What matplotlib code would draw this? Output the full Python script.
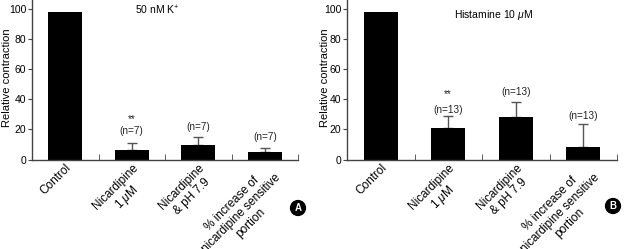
import matplotlib
matplotlib.use('Agg')
import matplotlib.pyplot as plt
import numpy as np

plt.rcParams['font.family'] = ['Liberation Sans', 'DejaVu Sans']
plt.rcParams['mathtext.fontset'] = 'custom'
plt.rcParams['mathtext.it'] = 'Liberation Sans:italic'
plt.rcParams['mathtext.rm'] = 'Liberation Sans'

# categories (same for both panels)
categories = ['Control', 'Nicardipine\n1 $\\mu$M', 'Nicardipine\n& pH 7.9',
              '% increase of\nnicardipine sensitive\nportion']

# panel A: 50 nM K+
values_a = [98, 6.5, 9.5, 4.8]
errors_a = [0, 4.3, 5.7, 2.7]
n_a = ['', '(n=7)', '(n=7)', '(n=7)']
n_y_a = [0, 19, 21.7, 15]
stars_a = ['', '**', '', '']
star_y_a = [0, 27, 0, 0]
title_a = '50 nM K$^{+}$'

# panel B: Histamine 10 uM
values_b = [98, 21, 28, 8.3]
errors_b = [0, 7.8, 10, 15.2]
n_b = ['', '(n=13)', '(n=13)', '(n=13)']
n_y_b = [0, 33, 45, 29.2]
stars_b = ['', '**', '', '']
star_y_b = [0, 43.7, 0, 0]
title_b = 'Histamine 10 $\\mu$M'

fig = plt.figure(figsize=(6.25, 2.49), dpi=100)
axA = fig.add_axes([0.0512, 0.3594, 0.4256, 0.6406])
axB = fig.add_axes([0.5552, 0.3594, 0.4320, 0.6406])

def draw(ax, vals, errs, ns, n_y, stars, star_y, title, tx, ty, ylab_x, letter, lx, ly):
    x = np.arange(len(vals))
    ax.bar(x, vals, width=0.51, color='black', zorder=2)
    for i in range(len(vals)):
        if errs[i] > 0:
            ax.errorbar(x[i], vals[i], yerr=[[0], [errs[i]]], fmt='none',
                        ecolor='#555555', elinewidth=1, capsize=3.5, capthick=1, zorder=1)
        if ns[i]:
            ax.text(x[i], n_y[i], ns[i], ha='center', va='center',
                    fontsize=7.2, color='#222222')
        if stars[i]:
            ax.text(x[i], star_y[i], stars[i], ha='center', va='center',
                    fontsize=7.2, color='#222222')
    ax.set_xlim(-0.5, 3.5)
    ax.set_ylim(0, 106.3)
    ax.set_yticks([0, 20, 40, 60, 80, 100])
    ax.set_xticks(x)
    ax.set_xticklabels(categories, rotation=45, ha='right', va='top',
                       rotation_mode='anchor', fontsize=8.5, multialignment='center')
    ax.set_xticks([0.5, 1.5, 2.5, 3.5], minor=True)
    ax.tick_params(axis='x', which='major', length=0, pad=1.5)
    ax.tick_params(axis='x', which='minor', direction='in', length=4, color='#444444')
    ax.tick_params(axis='y', direction='out', length=3, labelsize=7.5, pad=1, color='#444444')
    for s in ['top', 'right']:
        ax.spines[s].set_visible(False)
    for s in ['left', 'bottom']:
        ax.spines[s].set_color('#444444')
        ax.spines[s].set_linewidth(1)
    ax.set_ylabel('Relative contraction', fontsize=8)
    ax.yaxis.set_label_coords(ylab_x, 0.51)
    ax.text(tx, ty, title, transform=ax.transAxes, ha='center', va='center', fontsize=7.5)
    fig.text(lx, ly, letter, ha='center', va='center', color='white', fontsize=7,
             fontweight='bold',
             bbox=dict(boxstyle='circle,pad=0.25', facecolor='black', edgecolor='black'))

draw(axA, values_a, errors_a, n_a, n_y_a, stars_a, star_y_a, title_a, 0.47, 0.933, -0.074,
     'A', 298 / 625, 1 - 208 / 249)
draw(axB, values_b, errors_b, n_b, n_y_b, stars_b, star_y_b, title_b, 0.544, 0.908, -0.062,
     'B', 613 / 625, 1 - 206 / 249)

fig.savefig('out.png', dpi=100)
